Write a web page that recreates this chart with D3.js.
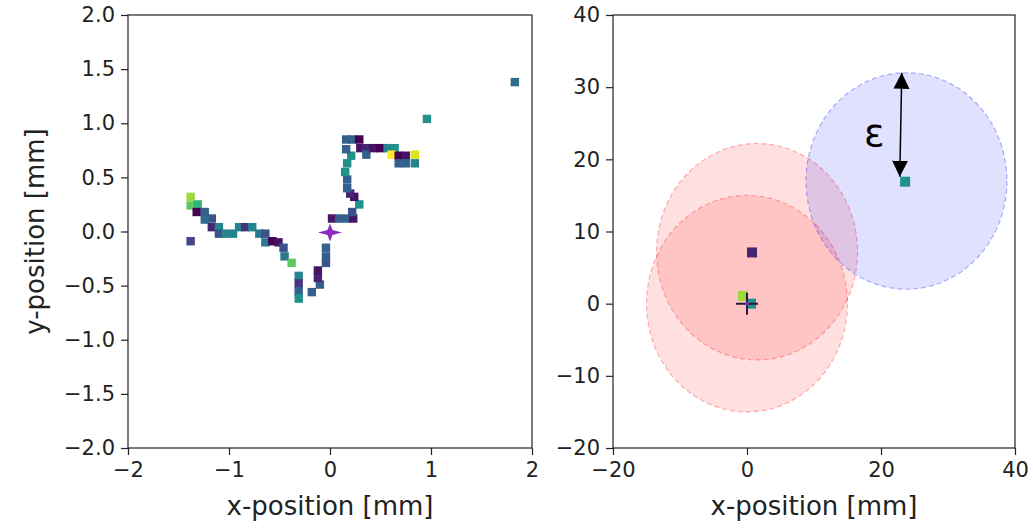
<!DOCTYPE html>
<html>
<head>
<meta charset="utf-8">
<script src="https://cdn.jsdelivr.net/npm/d3@7"></script>
<style>
  body { margin: 0; background: #fff; }
  svg text { font-family: "DejaVu Sans", sans-serif; fill: #222; }
  .axis path, .axis line { stroke: #222; stroke-width: 1.2; }
</style>
</head>
<body>
<svg width="1033" height="528"></svg>
<script>
// ---- data ----
// left panel: track cells [x mm, y mm, colour value 0..1]
var trackX = [-1.38,-1.38,-1.31,-1.32,-1.24,-1.17,-1.24,-1.17,-1.10,-1.10,-1.03,-0.96,-0.90,-0.84,-0.77,-0.70,-0.64,-0.64,-0.57,-0.51,-0.46,-0.45,-0.38,-1.38,
  -0.31,-0.31,-0.31,-0.31,
  -0.18,-0.10,-0.12,-0.12,-0.04,-0.04,-0.04,
  0.02,0.09,0.16,0.23,0.22,0.29,0.24,0.20,0.17,0.17,0.15,0.17,0.21,0.16,0.16,0.22,0.29,0.30,0.36,0.36,0.43,0.50,0.57,0.64,0.61,0.68,0.75,0.68,0.75,0.84,0.84,
  0.96,1.83];
var trackY = [0.32,0.24,0.25,0.18,0.18,0.12,0.11,0.04,0.04,-0.02,-0.02,-0.02,0.04,0.04,0.04,-0.02,-0.02,-0.10,-0.09,-0.10,-0.15,-0.23,-0.29,-0.09,
  -0.41,-0.48,-0.55,-0.62,
  -0.56,-0.49,-0.43,-0.36,-0.29,-0.23,-0.15,
  0.12,0.12,0.12,0.12,0.18,0.25,0.32,0.35,0.40,0.48,0.55,0.63,0.70,0.76,0.85,0.85,0.85,0.77,0.77,0.71,0.77,0.77,0.77,0.77,0.71,0.70,0.70,0.63,0.63,0.71,0.63,
  1.04,1.38];
var trackC = [0.85,0.75,0.65,0.0,0.3,0.25,0.35,0.1,0.45,0.25,0.45,0.45,0.45,0.15,0.45,0.4,0.25,0.4,0.0,0.05,0.25,0.4,0.75,0.2,
  0.45,0.15,0.3,0.5,
  0.3,0.3,0.1,0.05,0.25,0.3,0.3,
  0.05,0.3,0.3,0.05,0.25,0.5,0.05,0.1,0.3,0.3,0.5,0.5,0.5,0.3,0.3,0.3,0.0,0.05,0.1,0.3,0.05,0.0,0.45,0.5,1.0,0.0,0.05,0.3,0.3,0.95,0.45,
  0.5,0.35];
var startPoint = [0, -0.01];

// right panel: cluster points
var clusterX = [0.75, -0.6, 0.6, 23.6];
var clusterY = [7.1, 1.07, 0.0, 16.9];
var clusterC = [0.1, 0.85, 0.5, 0.5];
var originPoint = [0, 0];

// right panel: epsilon circles [cx, cy, r, colour]
var circleX = [0, 1.5, 23.8];
var circleY = [0, 7.2, 17.0];
var circleR = [15, 15, 15];
var circleCol = ["red", "red", "blue"];

// annotation arrow and label
var epsArrow = [[23.1, 32.0], [22.8, 17.6]];
var epsLabel = {x: 19.0, y: 23.6, text: "ε"};

// ticks
var leftXTicks = [-2, -1, 0, 1, 2];
var leftYTicks = [-2.0, -1.5, -1.0, -0.5, 0.0, 0.5, 1.0, 1.5, 2.0];
var rightXTicks = [-20, 0, 20, 40];
var rightYTicks = [-20, -10, 0, 10, 20, 30, 40];

// ---- drawing ----
var svg = d3.select("svg");
var plotTop = 15, plotBottom = 448;

function fmtMinus(s) { return s.replace("-", "\u2212"); }

function makeAxes(x0, x1, xDom, yDom, xTicks, yTicks, yFmt, yLabel) {
  var x = d3.scaleLinear().domain(xDom).range([x0, x1]);
  var y = d3.scaleLinear().domain(yDom).range([plotBottom, plotTop]);
  var g = svg.append("g");

  var xAxis = d3.axisBottom(x).tickValues(xTicks).tickSize(7).tickPadding(7)
    .tickFormat(function(d) { return fmtMinus(String(d)); });
  var yAxis = d3.axisLeft(y).tickValues(yTicks).tickSize(7).tickPadding(6)
    .tickFormat(function(d) { return fmtMinus(yFmt(d)); });

  g.append("g").attr("class", "axis").attr("transform", "translate(0," + plotBottom + ")")
    .call(xAxis).call(function(s) { s.select(".domain").remove(); })
    .selectAll("text").style("font-size", "21px").attr("font-family", null);
  g.append("g").attr("class", "axis").attr("transform", "translate(" + x0 + ",0)")
    .call(yAxis).call(function(s) { s.select(".domain").remove(); })
    .selectAll("text").style("font-size", "21px").attr("font-family", null);

  g.append("text")
    .attr("x", (x0 + x1) / 2).attr("y", 515)
    .attr("text-anchor", "middle").style("font-size", "26px")
    .text("x-position [mm]");
  if (yLabel) {
    g.append("text")
      .attr("transform", "translate(44," + ((plotTop + plotBottom) / 2) + ")rotate(-90)")
      .attr("text-anchor", "middle").style("font-size", "26px")
      .text(yLabel);
  }
  return {x: x, y: y, g: g, x0: x0, x1: x1};
}

function frame(ax) {
  svg.append("rect")
    .attr("x", ax.x0).attr("y", plotTop)
    .attr("width", ax.x1 - ax.x0).attr("height", plotBottom - plotTop)
    .attr("fill", "none").attr("stroke", "#222").attr("stroke-width", 1.2);
}

// left panel
var L = makeAxes(128, 532, [-2, 2], [-2, 2], leftXTicks, leftYTicks, d3.format(".1f"), "y-position [mm]");
var cell = 8.4;
L.g.append("g").selectAll("rect")
  .data(d3.range(trackX.length))
  .enter().append("rect")
  .attr("x", function(i) { return L.x(trackX[i]) - cell / 2; })
  .attr("y", function(i) { return L.y(trackY[i]) - cell / 2; })
  .attr("width", cell).attr("height", cell)
  .attr("fill", function(i) { return d3.interpolateViridis(trackC[i]); });

// four-point star at the start point
var sx = L.x(startPoint[0]), sy = L.y(startPoint[1]);
var star = [[-12, 0], [-2.5, -2.5], [0, -9], [2.5, -2.5], [12, 0], [2.5, 2.5], [0, 9], [-2.5, 2.5]];
L.g.append("path")
  .attr("d", d3.line()(star.map(function(p) { return [sx + p[0], sy + p[1]]; })) + "Z")
  .attr("fill", "#8a2bc2");
frame(L);

// right panel
var R = makeAxes(613, 1015, [-20, 40], [-20, 40], rightXTicks, rightYTicks, String, null);

R.g.append("g").selectAll("ellipse")
  .data(d3.range(circleX.length))
  .enter().append("ellipse")
  .attr("cx", function(i) { return R.x(circleX[i]); })
  .attr("cy", function(i) { return R.y(circleY[i]); })
  .attr("rx", function(i) { return R.x(circleR[i]) - R.x(0); })
  .attr("ry", function(i) { return R.y(0) - R.y(circleR[i]); })
  .attr("fill", function(i) { return circleCol[i]; })
  .attr("fill-opacity", 0.12)
  .attr("stroke", function(i) { return circleCol[i]; })
  .attr("stroke-opacity", 0.3)
  .attr("stroke-width", 1.2)
  .attr("stroke-dasharray", "5,3");

var sq = 10;
R.g.append("g").selectAll("rect")
  .data(d3.range(clusterX.length))
  .enter().append("rect")
  .attr("x", function(i) { return R.x(clusterX[i]) - sq / 2; })
  .attr("y", function(i) { return R.y(clusterY[i]) - sq / 2; })
  .attr("width", sq).attr("height", sq)
  .attr("fill", function(i) { return d3.interpolateViridis(clusterC[i]); });

// plus marker at the origin
var ox = R.x(originPoint[0]), oy = R.y(originPoint[1]);
R.g.append("path")
  .attr("d", "M" + (ox - 11) + "," + oy + "H" + (ox + 11) + "M" + ox + "," + (oy - 11) + "V" + (oy + 11))
  .attr("stroke", "#2a1a3a").attr("stroke-width", 2);
R.g.append("circle").attr("cx", ox).attr("cy", oy).attr("r", 2).attr("fill", "#8a2bc2");

// epsilon arrow
var defs = svg.append("defs");
["start", "end"].forEach(function(k) {
  defs.append("marker")
    .attr("id", "head-" + k)
    .attr("viewBox", "0 -5 10 10")
    .attr("refX", 10).attr("refY", 0)
    .attr("markerWidth", 16).attr("markerHeight", 18)
    .attr("markerUnits", "userSpaceOnUse")
    .attr("orient", k === "start" ? "auto-start-reverse" : "auto")
    .append("path").attr("d", "M0,-5L10,0L0,5Z").attr("fill", "#000");
});
R.g.append("line")
  .attr("x1", R.x(epsArrow[0][0])).attr("y1", R.y(epsArrow[0][1]))
  .attr("x2", R.x(epsArrow[1][0])).attr("y2", R.y(epsArrow[1][1]))
  .attr("stroke", "#000").attr("stroke-width", 1.5)
  .attr("marker-start", "url(#head-start)")
  .attr("marker-end", "url(#head-end)");
R.g.append("text")
  .attr("x", R.x(epsLabel.x)).attr("y", R.y(epsLabel.y))
  .attr("text-anchor", "middle").attr("dominant-baseline", "central")
  .style("font-size", "38px").style("fill", "#000")
  .text(epsLabel.text);
frame(R);
</script>
</body>
</html>
